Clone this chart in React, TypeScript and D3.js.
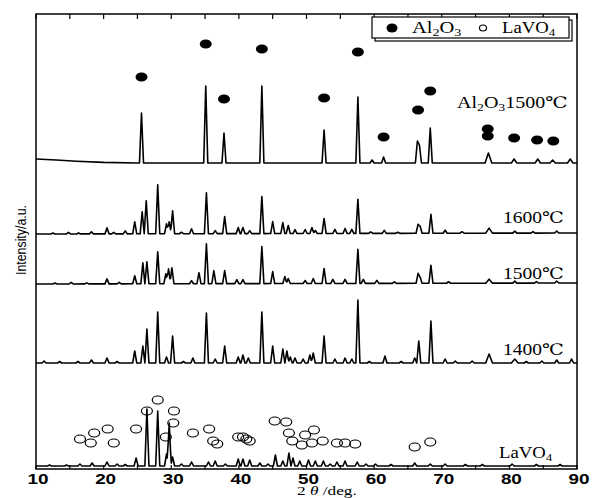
import React from "react";
import * as d3 from "d3";

// 2θ axis
const xTicks = [10, 20, 30, 40, 50, 60, 70, 80, 90];
const minorTicks = [15, 25, 35, 45, 55, 65, 75, 85];

// baselines [2θ, intensity a.u.] and peaks [2θ, height, halfWidth?]
const al2o3Base = [[10, 310], [13, 309], [16, 307.8], [20, 306.6], [25, 306], [90, 306]];
const al2o3Peaks = [
  [25.6, 50], [35.1, 77], [37.8, 30], [43.4, 77], [52.6, 33], [57.6, 66], [59.7, 3],
  [61.4, 6], [66.4, 22], [66.7, 18], [68.3, 35], [76.9, 10, 0.5], [80.7, 4, 0.4],
  [84.2, 4, 0.4], [86.4, 3, 0.4], [89.0, 4, 0.4],
];

const t1600Base = [[10, 235], [90, 236]];
const t1600Peaks = [
  [12.5, 1], [14.8, 1.5], [16.3, 1], [18.2, 2], [20.5, 6], [21.5, 1.5], [23.2, 3], [24.6, 12],
  [25.7, 22], [26.3, 33], [28.0, 49], [29.3, 10], [29.7, 12], [30.2, 23], [31.5, 1.5],
  [33.0, 5], [35.2, 41], [36.5, 3], [37.9, 17], [39.9, 6], [40.6, 6], [41.6, 3],
  [43.4, 37], [45.0, 12], [46.5, 11], [47.3, 8], [48.3, 4], [49.8, 4], [50.8, 6],
  [51.3, 3], [52.6, 15], [54.2, 4], [55.7, 5], [56.7, 4], [57.6, 34], [59.5, 1.5],
  [61.5, 3], [63.5, 1], [66.5, 9], [66.8, 7], [68.4, 19], [70.5, 3], [73.0, 1.5],
  [77.0, 5, 0.5], [80.8, 2], [83.5, 1.5], [87.0, 2],
];

const t1500Base = [[10, 185], [90, 186]];
const t1500Peaks = [
  [12.8, 1], [15.2, 1.5], [17.5, 1], [20.5, 5], [22.3, 1.5], [24.6, 8], [25.8, 21],
  [26.4, 22], [28.0, 32], [29.2, 10], [29.6, 15], [30.1, 16], [33.0, 3], [34.1, 11],
  [35.2, 40], [36.3, 13], [37.9, 13], [39.7, 4], [40.6, 4], [43.4, 37], [45.0, 12],
  [46.8, 7], [47.3, 5], [49.8, 3], [51.0, 5], [52.6, 15], [53.9, 4], [55.7, 4],
  [57.6, 34], [58.4, 4], [60.4, 3], [63.0, 1.5], [66.5, 10], [66.8, 6], [68.4, 18],
  [71.0, 1.5], [77.0, 4, 0.5], [80.8, 2], [84.0, 1.5], [87.0, 2],
];

const t1400Base = [[10, 106], [90, 106]];
const t1400Peaks = [
  [11.2, 2], [13.5, 1.5], [16.2, 1.5], [18.2, 3], [20.5, 5], [22.0, 1.5], [24.6, 12],
  [25.8, 17], [26.4, 34], [28.0, 51], [29.3, 6], [30.2, 27], [31.8, 1.5], [33.2, 5],
  [35.2, 50], [36.5, 4], [37.9, 17], [39.9, 6], [40.6, 8], [41.4, 5], [43.4, 51],
  [45.0, 17], [46.5, 14], [47.1, 12], [47.6, 6], [48.3, 5], [49.5, 4], [50.5, 8],
  [51.0, 10], [52.6, 27], [54.2, 4], [55.7, 5], [56.7, 4], [57.6, 63], [59.3, 1.5],
  [61.6, 7], [64.0, 1.5], [66.0, 5], [66.6, 22], [68.4, 42], [70.5, 4], [72.0, 2],
  [74.5, 2], [77.0, 9, 0.5], [80.8, 4, 0.5], [82.5, 1.5], [84.8, 2], [87.0, 3], [89.2, 4],
];

const lavo4Base = [[10, 3], [90, 3]];
const lavo4Peaks = [
  [12.0, 1], [14.5, 1], [16.5, 2], [18.3, 3], [20.5, 4], [22.0, 2], [23.2, 1.5],
  [24.8, 8], [26.4, 57], [28.0, 55], [29.3, 12], [29.7, 43], [30.2, 9], [31.5, 2],
  [33.0, 4], [35.5, 4], [36.5, 5], [38.0, 2], [39.9, 7], [40.6, 7], [41.6, 6],
  [43.1, 3], [44.3, 2], [45.4, 11], [46.5, 5], [47.4, 13], [48.0, 8], [49.0, 5],
  [50.3, 6], [51.3, 5], [52.5, 5], [53.5, 2], [54.5, 4], [55.7, 5], [57.5, 4],
  [58.8, 2], [60.2, 2], [62.5, 1.5], [66.0, 3], [68.3, 2], [70.5, 2], [73.5, 1.5],
  [76.0, 1.5], [80.4, 2], [84.0, 1.5], [87.5, 1.5],
];

// phase markers [2θ, intensity]
const al2o3Marks = [
  [25.6, 392], [35.1, 425], [37.8, 370], [43.4, 420], [52.6, 371], [57.6, 417],
  [61.4, 332], [66.5, 359], [68.3, 378], [76.8, 340], [76.8, 333], [80.7, 331],
  [84.1, 329], [86.5, 328],
];
const lavo4Marks = [
  [16.5, 30], [18.1, 26], [18.6, 36], [20.6, 40], [21.5, 26], [24.8, 40], [26.4, 58],
  [28.0, 69], [29.2, 32], [30.3, 46], [30.4, 58], [33.2, 36], [35.6, 40], [36.2, 28],
  [36.8, 25], [39.9, 32], [40.6, 32], [41.1, 30], [41.6, 28], [45.3, 48], [47.0, 47],
  [47.4, 36], [47.9, 28], [49.3, 24], [49.8, 34], [50.8, 26], [51.1, 39], [52.4, 28],
  [54.5, 26], [55.7, 26], [57.2, 25], [66.0, 22], [68.3, 27],
];

const x = d3.scaleLinear().domain([10, 90]).range([36, 577]);
const y = d3.scaleLinear().domain([0, 455]).range([469, 14]);

const HW = 0.3;

function tracePath(base: number[][], peaks: number[][]) {
  const b = d3.scaleLinear().domain(base.map(d => d[0])).range(base.map(d => d[1]));
  const knots = new Set<number>(base.map(d => d[0]));
  peaks.forEach(([p, , w = HW]) => {
    knots.add(+(p - w).toFixed(3));
    knots.add(p);
    knots.add(+(p + w).toFixed(3));
  });
  const xs = Array.from(knots).filter(v => v >= 10 && v <= 90).sort((a, c) => a - c);
  const pts = xs.map(t => {
    let add = 0;
    peaks.forEach(([p, h, w = HW]) => {
      const v = h * (1 - Math.abs(t - p) / w);
      if (v > add) add = v;
    });
    return [t, b(t) + add] as [number, number];
  });
  return d3.line<[number, number]>().x(d => x(d[0])).y(d => y(d[1]))(pts) || "";
}

const traces = [
  { base: al2o3Base, peaks: al2o3Peaks },
  { base: t1600Base, peaks: t1600Peaks },
  { base: t1500Base, peaks: t1500Peaks },
  { base: t1400Base, peaks: t1400Peaks },
  { base: lavo4Base, peaks: lavo4Peaks },
];

const serif = "'Times New Roman', 'Liberation Serif', 'DejaVu Serif', serif";

const Label = ({ x: lx, y: ly, sx = 1.22, children }: any) => (
  <text transform={`translate(${lx},${ly}) scale(${sx},1)`} fontFamily={serif} fontSize={16}>{children}</text>
);

const App = () => {
  const x0 = x(10), x1 = x(90), yTop = y(455), yBot = y(0);
  return (
    <svg width={596} height={498} style={{ position: "absolute", left: 0, top: 0, background: "#fff" }}>
      {/* frame */}
      <rect x={x0} y={yTop} width={x1 - x0} height={yBot - yTop} fill="none" stroke="#000" strokeWidth={1.5} />
      {[...xTicks, ...minorTicks].map(t => (
        <g key={t}>
          <line x1={x(t)} x2={x(t)} y1={yTop} y2={yTop + 5} stroke="#000" strokeWidth={1.2} />
          <line x1={x(t)} x2={x(t)} y1={yBot} y2={yBot - 4} stroke="#000" strokeWidth={1.2} />
        </g>
      ))}
      {xTicks.map(t => (
        <text key={t} x={x(t) + 2} y={484} textAnchor="middle" fontFamily="'Liberation Sans', Arial, sans-serif"
          fontWeight="bold" fontSize={14} textLength={21} lengthAdjust="spacingAndGlyphs">{t}</text>
      ))}
      <text transform="translate(297,495) scale(1.28,1)" fontFamily={serif} fontSize={13.5}>2 <tspan fontStyle="italic">θ</tspan> /deg.</text>
      <text transform="translate(26,240) rotate(-90)" textAnchor="middle" fontFamily="'Liberation Sans', Arial, sans-serif"
        fontSize={15} textLength={70} lengthAdjust="spacingAndGlyphs">Intensity/a.u.</text>

      {/* patterns */}
      {traces.map((t, i) => (
        <path key={i} d={tracePath(t.base, t.peaks)} fill="none" stroke="#000" strokeWidth={1.6} strokeLinejoin="round" />
      ))}

      {/* markers */}
      {al2o3Marks.map((d, i) => (
        <ellipse key={"a" + i} cx={x(d[0])} cy={y(d[1])} rx={6} ry={4.5} fill="#000" />
      ))}
      {lavo4Marks.map((d, i) => (
        <ellipse key={"l" + i} cx={x(d[0])} cy={y(d[1])} rx={5.5} ry={4} fill="none" stroke="#000" strokeWidth={1.2} />
      ))}

      {/* labels */}
      <Label x={457} y={108} sx={1.25}>Al<tspan fontSize={11} dy={3}>2</tspan><tspan dy={-3}>O</tspan><tspan fontSize={11} dy={3}>3</tspan><tspan dy={-3}>1500℃</tspan></Label>
      <Label x={503} y={223}>1600℃</Label>
      <Label x={503} y={279}>1500℃</Label>
      <Label x={503} y={355}>1400℃</Label>
      <Label x={499} y={458} sx={1.17}>LaVO<tspan fontSize={11} dy={3}>4</tspan></Label>

      {/* legend */}
      <rect x={375} y={20} width={197} height={21} fill="#fff" stroke="#000" strokeWidth={1.2} />
      <rect x={372} y={17} width={197} height={21} fill="#fff" stroke="#000" strokeWidth={1.2} />
      <ellipse cx={392} cy={28} rx={5.5} ry={4.5} fill="#000" />
      <ellipse cx={483} cy={28} rx={3.5} ry={3} fill="none" stroke="#000" strokeWidth={1.2} />
      <Label x={412} y={33} sx={1.28}>Al<tspan fontSize={11} dy={3}>2</tspan><tspan dy={-3}>O</tspan><tspan fontSize={11} dy={3}>3</tspan></Label>
      <Label x={502} y={33} sx={1.17}>LaVO<tspan fontSize={11} dy={3}>4</tspan></Label>
    </svg>
  );
};

export default App;
